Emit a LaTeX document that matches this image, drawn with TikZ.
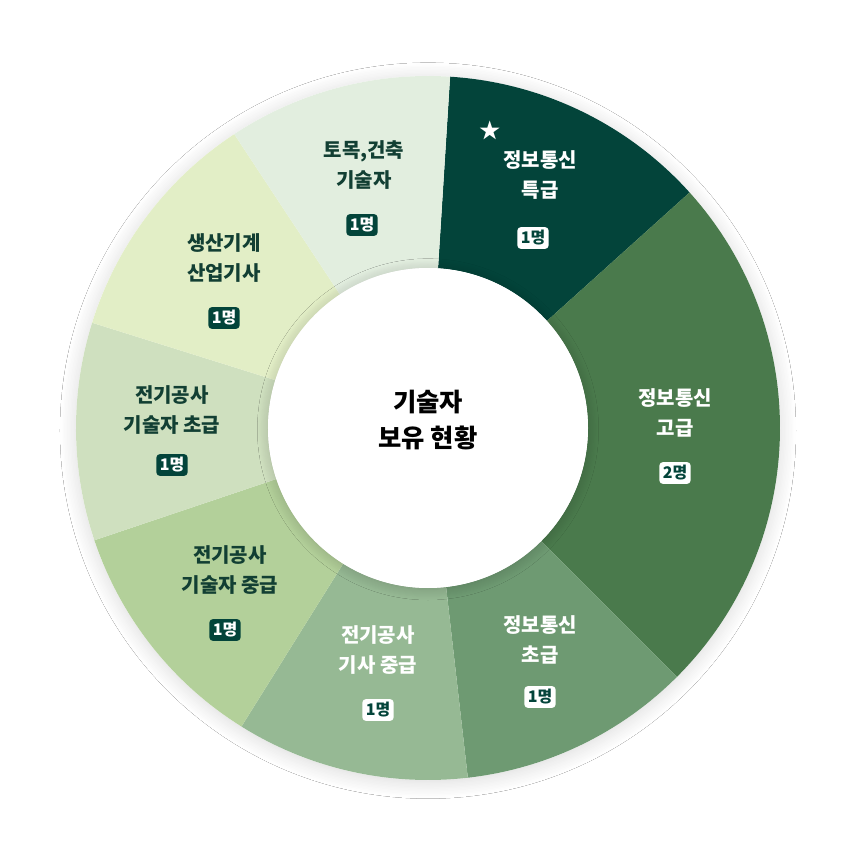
\documentclass[tikz,border=0pt]{standalone}
\usepackage{fontspec}
\setmainfont{Noto Sans CJK KR}
\usetikzlibrary{shapes.geometric,shadows.blur}
\definecolor{c1}{HTML}{03443A}
\definecolor{c2}{HTML}{4A7A4C}
\definecolor{c3}{HTML}{6E9A72}
\definecolor{c4}{HTML}{96B994}
\definecolor{c5}{HTML}{B3D09A}
\definecolor{c6}{HTML}{CFE0BF}
\definecolor{c7}{HTML}{E2EEC6}
\definecolor{c8}{HTML}{E2EEDF}
\definecolor{tdark}{HTML}{123F33}
\tikzset{
 lbl/.style={align=center,font=\fontsize{15}{22}\selectfont\bfseries},
 lw/.style={lbl,text=white},
 ld/.style={lbl,text=tdark},
 bw/.style={fill=white,rounded corners=2.5pt,text=c1,inner sep=2.5pt,font=\fontsize{12}{12}\selectfont\bfseries},
 bd/.style={fill=c1,rounded corners=2.5pt,text=white,inner sep=2.5pt,font=\fontsize{12}{12}\selectfont\bfseries},
}
\newcommand{\seg}[3]{\fill[#3] (#1:264pt) arc[start angle=#1,end angle=#2,radius=264pt] -- (#2:120pt) arc[start angle=#2,end angle=#1,radius=120pt] -- cycle;}
\begin{document}
\begin{tikzpicture}[x=0.75pt,y=0.75pt]
\useasboundingbox (-428,-428) rectangle (428,428);
\fill[white] (-428,-428) rectangle (428,428);
\node[circle,minimum size=528pt,fill=white,blur shadow={shadow blur steps=12,shadow xshift=0pt,shadow yshift=-2pt,shadow opacity=15,shadow blur radius=12pt}] (ring) at (0,0) {};
\seg{86.4}{42}{c1}
\seg{42}{-45}{c2}
\seg{-45}{-83.5}{c3}
\seg{-83.5}{-122}{c4}
\seg{-122}{-161.4}{c5}
\seg{-161.4}{-197.4}{c6}
\seg{162.6}{123.4}{c7}
\seg{123.4}{86.4}{c8}
\node[circle,minimum size=240pt,fill=white,blur shadow={shadow blur steps=12,shadow xshift=0pt,shadow yshift=-1pt,shadow opacity=20,shadow blur radius=8pt}] (hole) at (0,0) {};
\node[lbl,text=black,font=\fontsize{19}{27}\selectfont\bfseries] (ctr) at (0,8) {기술자\\보유 현황};
% segment labels (pixel coords relative to center: x-428, 428-y)
\node[lw] (t1) at (112,253) {정보통신\\특급};
\node[bw] (b1) at (105,190) {1명};
\node[text=white,font=\fontsize{16}{16}\selectfont] (star) at (62,298) {★};
\node[lw] (t2) at (247,15) {정보통신\\고급};
\node[bw] (b2) at (247,-45) {2명};
\node[lw] (t3) at (112,-212) {정보통신\\초급};
\node[bw] (b3) at (112,-269) {1명};
\node[lw] (t4) at (-50,-222) {전기공사\\기사 중급};
\node[bw] (b4) at (-50,-282) {1명};
\node[ld] (t5) at (-198,-142) {전기공사\\기술자 중급};
\node[bd] (b5) at (-203,-202) {1명};
\node[ld] (t6) at (-256,18) {전기공사\\기술자 초급};
\node[bd] (b6) at (-256,-37) {1명};
\node[ld] (t7) at (-204,170) {생산기계\\산업기사};
\node[bd] (b7) at (-204,110) {1명};
\node[ld] (t8) at (-64,263) {토목,건축\\기술자};
\node[bd] (b8) at (-66,203) {1명};
\end{tikzpicture}
\end{document}
